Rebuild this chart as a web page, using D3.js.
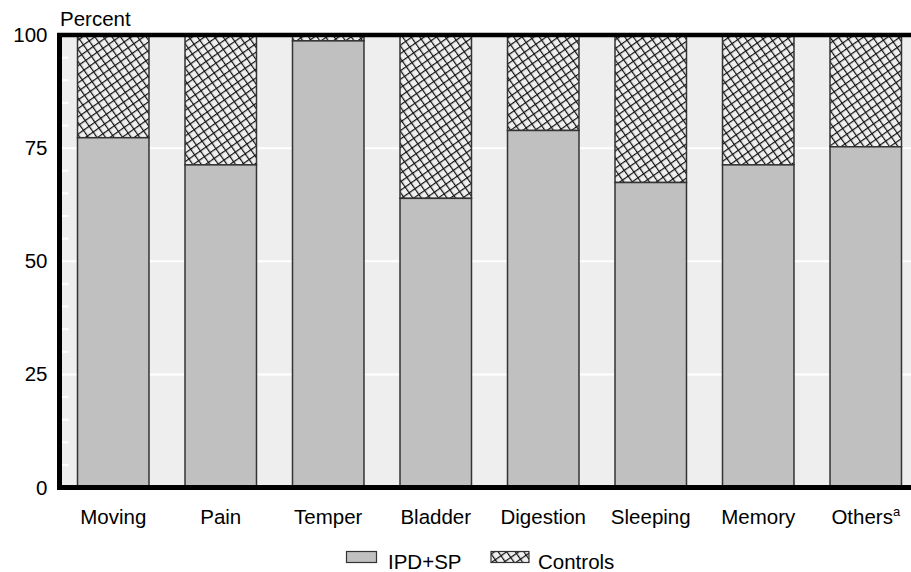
<!DOCTYPE html>
<html><head><meta charset="utf-8">
<script src="https://cdn.jsdelivr.net/npm/d3@7"></script>
<style>body{margin:0;background:#fff}svg{display:block}text{font-family:"Liberation Sans",Arial,sans-serif}</style>
</head><body>
<script>
const categories = ["Moving","Pain","Temper","Bladder","Digestion","Sleeping","Memory","Others"];
const ipdValues = [77.3, 71.3, 98.7, 63.9, 78.9, 67.4, 71.3, 75.3];
const yTicks = [0, 25, 50, 75, 100];
const minorTicks = [5,10,15,20,30,35,40,45,55,60,65,70,80,85,90,95];
const seriesNames = ["IPD+SP", "Controls"];

const W = 911, H = 572, FS = 20.5;
const svg = d3.select("body").append("svg").attr("width", W).attr("height", H);

const defs = svg.append("defs");
const P = 7;
const pat = defs.append("pattern").attr("id","hatch").attr("patternUnits","userSpaceOnUse")
  .attr("width",P).attr("height",P).attr("patternTransform","rotate(-35)");
pat.append("rect").attr("width",P).attr("height",P).attr("fill","#f0f0f0");
pat.append("line").attr("x1",0.5).attr("y1",0).attr("x2",0.5).attr("y2",P).attr("stroke","#111").attr("stroke-width",1.4);
pat.append("line").attr("x1",0).attr("y1",0.5).attr("x2",P).attr("y2",0.5).attr("stroke","#111").attr("stroke-width",1.4);

const x0 = 59.5, y0 = 487.5, yTop = 35;
const x = d3.scaleBand().domain(categories).range([x0, x0 + 8*107.5]).paddingInner(0.335).paddingOuter(0.1675);
const y = d3.scaleLinear().domain([0,100]).range([y0, yTop]);

// background
svg.append("rect").attr("x", x0).attr("y", yTop).attr("width", W - x0).attr("height", y0 - yTop).attr("fill","#eeeeee");

// gridlines
svg.append("g").selectAll("line").data(yTicks.filter(d=>d>0 && d<100)).join("line")
  .attr("x1", x0).attr("x2", W).attr("y1", d=>y(d)).attr("y2", d=>y(d))
  .attr("stroke","#fff").attr("stroke-width",2);
svg.append("g").selectAll("line").data(minorTicks).join("line")
  .attr("x1", x0).attr("x2", x0+9).attr("y1", d=>y(d)).attr("y2", d=>y(d))
  .attr("stroke","#fff").attr("stroke-width",2);

// bars
const g = svg.append("g");
g.selectAll("rect.ctrl").data(categories).join("rect").attr("class","ctrl")
  .attr("x", d=>x(d)).attr("width", x.bandwidth())
  .attr("y", y(100)).attr("height", (d,i)=> y(ipdValues[i]) - y(100))
  .attr("fill","url(#hatch)").attr("stroke","#333").attr("stroke-width",1.5);
g.selectAll("rect.ipd").data(categories).join("rect").attr("class","ipd")
  .attr("x", d=>x(d)).attr("width", x.bandwidth())
  .attr("y", (d,i)=>y(ipdValues[i])).attr("height", (d,i)=> y(0) - y(ipdValues[i]))
  .attr("fill","#c0c0c0").attr("stroke","#333").attr("stroke-width",1.5);

// frame lines
svg.append("line").attr("x1", x0-2.5).attr("x2", W).attr("y1", yTop).attr("y2", yTop).attr("stroke","#000").attr("stroke-width",4.5);
svg.append("line").attr("x1", x0-2.5).attr("x2", W).attr("y1", y0).attr("y2", y0).attr("stroke","#000").attr("stroke-width",5);
svg.append("line").attr("x1", x0).attr("x2", x0).attr("y1", yTop-2).attr("y2", y0+2.5).attr("stroke","#000").attr("stroke-width",5);

// y axis labels
const yAxis = d3.axisLeft(y).tickValues(yTicks).tickSize(0).tickPadding(12);
const ya = svg.append("g").attr("transform",`translate(${x0},0)`).call(yAxis);
ya.select(".domain").remove();
ya.selectAll("text").attr("font-size",FS).attr("fill","#000").attr("font-family",'"Liberation Sans",Arial,sans-serif');

// x axis labels
const xAxis = d3.axisBottom(x).tickSize(0).tickPadding(22).tickFormat(d => d);
const xa = svg.append("g").attr("transform",`translate(0,${y0})`).call(xAxis);
xa.select(".domain").remove();
xa.selectAll("text").attr("font-size",FS).attr("fill","#000").attr("font-family",'"Liberation Sans",Arial,sans-serif')
  .each(function(d){
    if (d === "Others") {
      const t = d3.select(this).text("Others");
      t.append("tspan").attr("font-size",13).attr("dy",-8).text("a");
    }
  });

svg.append("text").attr("x",60).attr("y",26).attr("font-size",FS).text("Percent");

// legend
const lg = svg.append("g");
lg.append("rect").attr("x",346.5).attr("y",551.5).attr("width",30).attr("height",11).attr("fill","#c0c0c0").attr("stroke","#333").attr("stroke-width",1.2);
lg.append("text").attr("x",388).attr("y",569).attr("font-size",FS).text(seriesNames[0]);
lg.append("rect").attr("x",491).attr("y",551.5).attr("width",38).attr("height",11).attr("fill","url(#hatch)").attr("stroke","#333").attr("stroke-width",1.2);
lg.append("text").attr("x",538).attr("y",569).attr("font-size",FS).text(seriesNames[1]);
</script>
</body></html>
